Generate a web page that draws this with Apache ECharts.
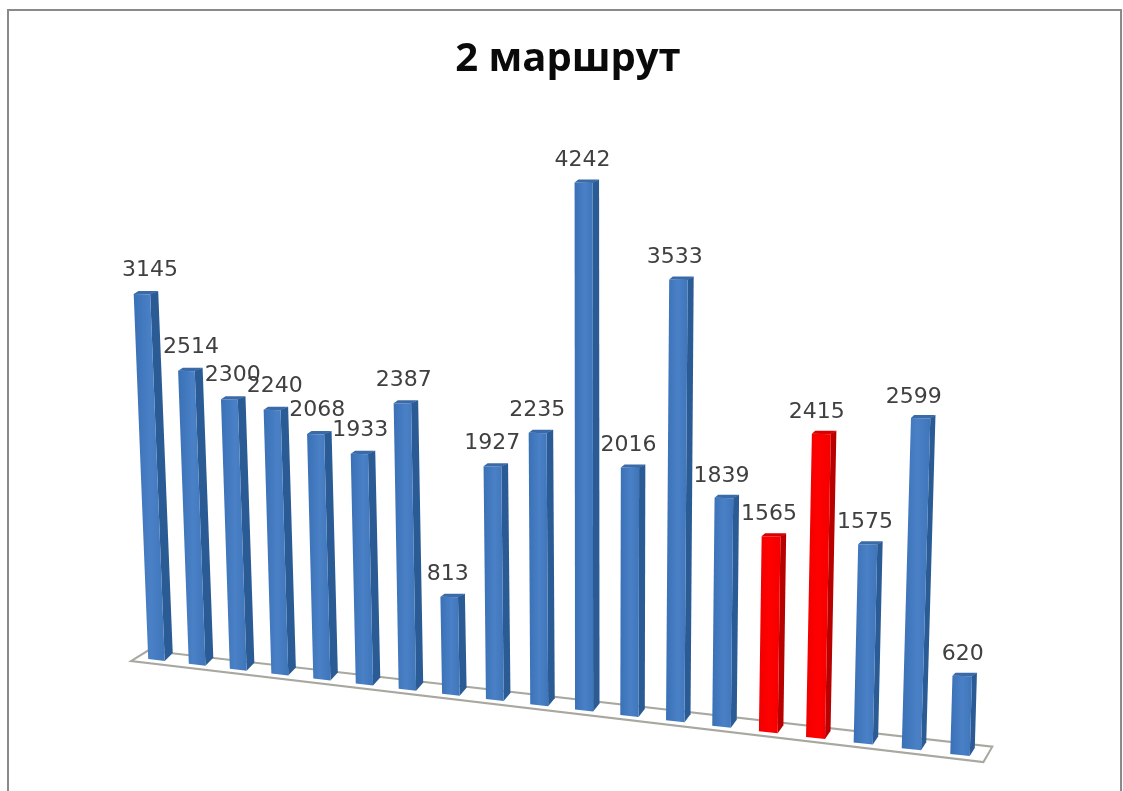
<!DOCTYPE html>
<html>
<head>
<meta charset="utf-8">
<style>html,body{margin:0;padding:0;background:#fff}#c{width:1123px;height:791px;filter:blur(0.5px)}</style>
<script src="https://cdn.jsdelivr.net/npm/echarts@6/dist/echarts.min.js"></script>
</head>
<body>
<div id="c"></div>
<script>
const titleText = '2 маршрут';
const categories = ['1','2','3','4','5','6','7','8','9','10','11','12','13','14','15','16','17','18','19'];
const values = [3145,2514,2300,2240,2068,1933,2387,813,1927,2235,4242,2016,3533,1839,1565,2415,1575,2599,620];
const highlighted = ['15','16'];

// Pseudo-3D projection of the flat grid plane on the tilted floor of the picture
const G = {left:137.7, width:846.6, top:57, height:600};
const firstX = G.left + G.width/38, lastX = G.left + G.width*37/38, midX = (firstX+lastX)/2, halfX = (lastX-firstX)/2;
function projX(x){ const t=(x-midX)/halfX; return x - 19*(1-t*t); }
function floorY(px){ return G.top+G.height + (px-firstX)*0.1185; }
function heightScale(px,h){
  const near = Math.min(1, Math.max(0,(px-firstX)/300));
  const tall = Math.max(0,(h-300)/210);
  return 0.97 + 0.097*(px-firstX)/(lastX-firstX) + 0.016*tall*near;
}
function leanOf(px,h){ return h*(px-586)*9e-5; }

function renderBar(params, api){
  const i = api.value(0), v = api.value(1);
  const p0 = api.coord([i,0]), p1 = api.coord([i,v]);
  const bx = projX(p0[0]), by = floorY(bx);
  const flat = p0[1]-p1[1];
  const h = flat*heightScale(bx,flat);
  const tx = bx + leanOf(bx,h), ty = by - h;
  const dx = bx-firstX;
  const d = 8 - 3*dx/(lastX-firstX);
  const W = 24.5, fw = W-d;
  const red = highlighted.indexOf(categories[i])>=0;
  const front = new echarts.graphic.LinearGradient(0,0,1,0,red
    ? [{offset:0,color:'#f00000'},{offset:.5,color:'#ff0000'},{offset:1,color:'#f40000'}]
    : [{offset:0,color:'#3a70b6'},{offset:.55,color:'#4a80c6'},{offset:1,color:'#3f76ba'}]);
  const sideCol = red ? '#b80000' : '#2a5b94';
  const capCol = red ? '#d80000' : '#3a6aa8';
  const bl = bx-W/2+0.5, tl = tx-W/2;
  const textX = bx - 10 + 0.0135*dx;
  return {type:'group', children:[
    {type:'polygon', shape:{points:[[tl+fw,ty+3],[tl+fw+d,ty],[bl+fw+d,by-4],[bl+fw,by+4]]}, style:{fill:sideCol}},
    {type:'polygon', shape:{points:[[tl,ty+3],[tl+fw,ty+3.5],[bl+fw,by+4],[bl,by+2]]}, style:{fill:front}},
    {type:'polygon', shape:{points:[[tl,ty+3],[tl+d*0.6,ty],[tl+fw+d,ty],[tl+fw,ty+3.5]]}, style:{fill:capCol}},
    {type:'text', z2:10, style:{x:textX, y:ty-21+3*dx/(lastX-firstX), text:String(v), fill:'#404040',
      font:'22px "DejaVu Sans"', align:'center', verticalAlign:'middle'}}
  ]};
}

function renderFloor(params, api){
  const band = api.size([1,0])[0];
  const a = api.coord([0,0])[0], b = api.coord([categories.length-1,0])[0];
  const xFL = a-0.65*band, xBL = a-0.27*band, xBR = b+0.68*band, xFR = b+0.48*band;
  const pt = (x,off)=>[x, floorY(x)+off];
  return {type:'polygon', shape:{points:[pt(xFL,7.5),pt(xBL,-5),pt(xBR,-9),pt(xFR,7.5)]},
    style:{fill:'#ffffff', stroke:'#a8a8a0', lineWidth:2}};
}

const chart = echarts.init(document.getElementById('c'), null, {renderer:'canvas'});
chart.setOption({
  animation:false,
  backgroundColor:'#ffffff',
  title:{text:titleText, left:563, top:35, textAlign:'center',
    textStyle:{fontFamily:'"Open Sans"', fontWeight:'bold', fontSize:40, color:'#0a0a0a'}},
  grid:{left:G.left, width:G.width, top:G.top, height:G.height},
  xAxis:{type:'category', data:categories, show:false},
  yAxis:{type:'value', min:0, max:5000, show:false},
  graphic:[{type:'rect', silent:true, z:-1, shape:{x:8,y:10,width:1113,height:800},
    style:{fill:'none', stroke:'#8a8a8a', lineWidth:2}}],
  series:[
    {type:'custom', coordinateSystem:'cartesian2d', clip:false, silent:true, z:1,
     data:[[0,0]], renderItem:renderFloor},
    {type:'custom', coordinateSystem:'cartesian2d', clip:false, silent:true, z:2,
     encode:{x:0,y:1}, data:values.map((v,i)=>[i,v]), renderItem:renderBar}
  ]
});
</script>
</body>
</html>
